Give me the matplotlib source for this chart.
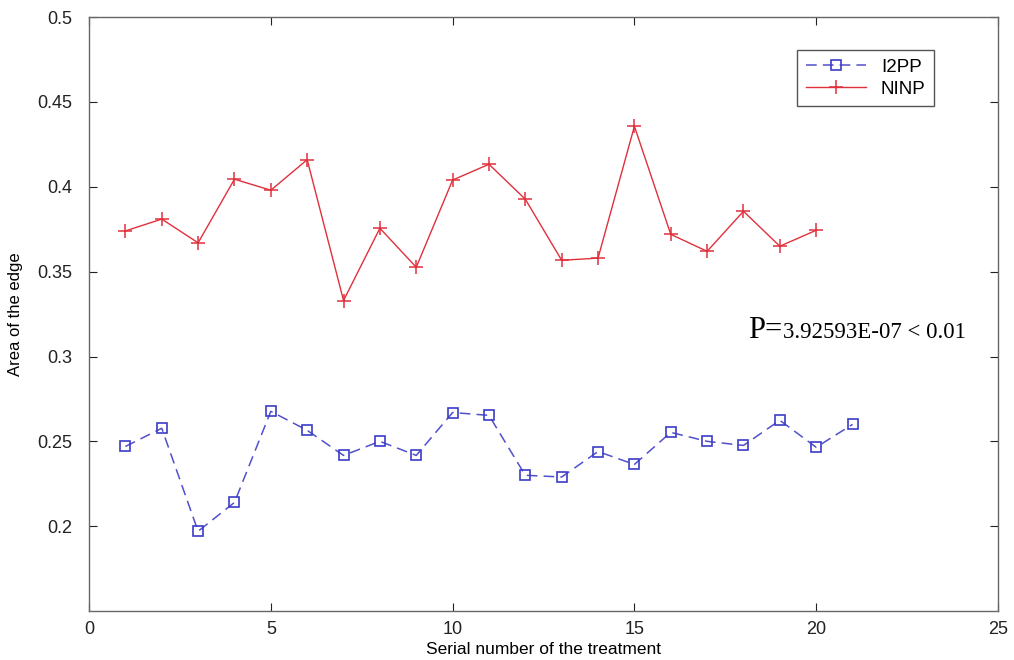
import matplotlib
matplotlib.use("Agg")
import matplotlib.pyplot as plt

# Data
x_i2pp = list(range(1, 22))
i2pp = [0.247, 0.2577, 0.197, 0.214, 0.2677, 0.2565, 0.2417, 0.250, 0.2417, 0.267,
        0.2653, 0.230, 0.229, 0.244, 0.2364, 0.2553, 0.250, 0.2476, 0.2624, 0.2465, 0.260]

x_ninp = list(range(1, 21))
ninp = [0.374, 0.381, 0.367, 0.4045, 0.398, 0.416, 0.333, 0.3756, 0.3526, 0.404,
        0.4133, 0.3927, 0.3567, 0.358, 0.4357, 0.372, 0.362, 0.3856, 0.365, 0.3744]

xticks = [0, 5, 10, 15, 20, 25]
yticks = [0.2, 0.25, 0.3, 0.35, 0.4, 0.45, 0.5]
ytick_labels = ["0.2", "0.25", "0.3", "0.35", "0.4", "0.45", "0.5"]

plt.rcParams["font.family"] = ["Liberation Sans", "DejaVu Sans"]

fig = plt.figure(figsize=(10.14, 6.6), dpi=100)
ax = fig.add_axes([0.0878, 0.0742, 0.8964, 0.8998])

ax.plot(x_i2pp, i2pp, linestyle="--", color="#5050cc", marker="s", markersize=6.5,
        markerfacecolor="none", markeredgecolor="#3c3cc8", markeredgewidth=1.2,
        linewidth=1.1, dashes=(7, 4), label="I2PP")
ax.plot(x_ninp, ninp, linestyle="-", color="#e0303c", marker="+", markersize=10,
        markeredgewidth=1.1, linewidth=1.0, label="NINP")

ax.set_xlim(0, 25)
ax.set_ylim(0.15, 0.5)
ax.set_xticks(xticks)
ax.set_yticks(yticks)
ax.set_yticklabels(ytick_labels)
ax.tick_params(direction="in", length=6, labelsize=13, colors="#222222",
               top=True, right=True, pad=7)
ax.tick_params(axis="y", pad=12)
for s in ax.spines.values():
    s.set_color("#666666")
    s.set_linewidth(1.0)

ax.set_xlabel("Serial number of the treatment", fontsize=12.5, labelpad=3)
ax.set_ylabel("Area of the edge", fontsize=12, labelpad=10)

leg = ax.legend(loc="upper right", bbox_to_anchor=(0.9296, 0.944), fontsize=13.5,
                fancybox=False, framealpha=1, edgecolor="#555555",
                handlelength=3.2, borderpad=0.45, labelspacing=0.25,
                borderaxespad=0)
leg.get_frame().set_linewidth(1.0)

ax.text(18.12, 0.3107, "P=", fontsize=22, family=["Liberation Serif"],
        va="baseline", ha="left")
ax.text(19.09, 0.3107, "3.92593E-07 < 0.01", fontsize=16.5,
        family=["Liberation Serif"], va="baseline", ha="left")

fig.savefig("out.png", dpi=100)
